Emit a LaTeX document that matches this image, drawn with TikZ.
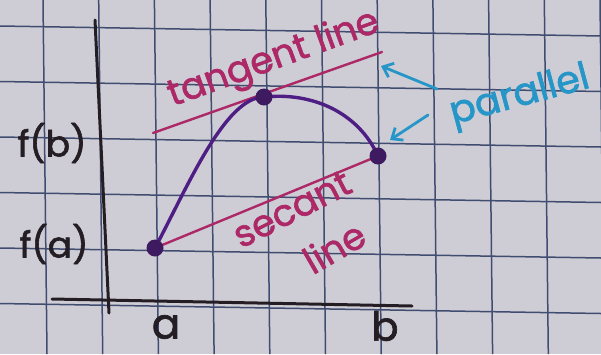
\documentclass[tikz,border=0pt]{standalone}
\usepackage{fontspec}
\setmainfont{Poppins}
\newfontfamily\handfont{Poppins}[FakeBold=1.6]
\usetikzlibrary{arrows.meta, positioning, calc}

\definecolor{paper}{RGB}{206,205,213}
\definecolor{gridblue}{RGB}{64,76,112}
\definecolor{ink}{RGB}{36,30,36}
\definecolor{curvepurple}{RGB}{78,30,132}
\definecolor{dotpurple}{RGB}{62,26,96}
\definecolor{linemagenta}{RGB}{172,40,102}
\definecolor{notecyan}{RGB}{38,150,200}

\begin{document}
\begin{tikzpicture}[
    x=1pt, y=-1pt,
    gridline/.style={
        draw=gridblue,
        line width=1.5pt
    },
    axis/.style={
        draw=ink,
        line width=3pt,
        line cap=round
    },
    curve/.style={
        draw=curvepurple,
        line width=3.4pt,
        line cap=round
    },
    magline/.style={
        draw=linemagenta,
        line width=2.4pt,
        line cap=round
    },
    dot/.style={
        circle,
        fill=dotpurple,
        inner sep=0pt,
        minimum size=17pt
    },
    axislabel/.style={
        text=ink,
        inner sep=0pt,
        font=\handfont\fontsize{36}{36}\selectfont
    },
    maglabel/.style={
        text=linemagenta,
        inner sep=0pt,
        font=\handfont\fontsize{37}{37}\selectfont
    },
    note/.style={
        text=notecyan,
        inner sep=0pt,
        font=\handfont\fontsize{38}{38}\selectfont
    },
    pointer/.style={
        ->,
        >={Straight Barb[length=9pt, width=15pt]},
        draw=notecyan,
        line width=2.8pt,
        line cap=round
    }
]

% Paper and grid
\useasboundingbox (0,0) rectangle (601,354);
\fill [paper] (0,0) rectangle (601,354);
\begin{scope}
\clip (0,0) rectangle (601,354);
\foreach \gx in {-12.7,43,98.7,154.4,210.1,265.8,321.5,377.2,432.9,488.6,544.3,600} {
    \draw [gridline] (\gx,0) -- (\gx+4,354);
}
\foreach \gy in {-29.5,26,81.5,137,192.5,248,303.5,359} {
    \draw [gridline] (0,\gy) -- (601,\gy+10);
}
\end{scope}

% Axes
\coordinate (ytop) at (95,20);
\coordinate (ybot) at (109,313);
\coordinate (xleft) at (52,299);
\coordinate (xright) at (412,306);
\draw [axis] (ytop) -- (ybot);
\draw [axis] (xleft) -- (xright);

% Tangent and secant
\coordinate (tanL) at (153,133);
\coordinate (tanR) at (382,52);
\coordinate (pa) at (155,248);
\coordinate (pt) at (264,97);
\coordinate (pb) at (378,156);
\draw [magline] (tanL) -- (tanR);
\draw [magline] (pa) -- (pb);

% Function
\draw [curve] (pa) .. controls (187,188) and (225,97) .. (pt)
    .. controls (312,92) and (358,112) .. (pb);

% Points
\node (dota) [dot] at (pa) {};
\node (dott) [dot] at (pt) {};
\node (dotb) [dot] at (pb) {};

% Labels
\node (fb) [axislabel] at (52,143) {f(b)};
\node (fa) [axislabel] at (54,244) {f(a)};
\node (la) [axislabel, font=\handfont\fontsize{42}{42}\selectfont] at (166,327) {a};
\node (lb) [axislabel, font=\handfont\fontsize{40}{40}\selectfont] at (385,326) {b};
\node (tanlabel) [maglabel, rotate=20] at (274,60) {tangent line};
\node (seclabel) [maglabel, rotate=27] at (292,209) {secant};
\node (seclabel2) [maglabel, rotate=30] at (334,247) {line};
\node (parlabel) [note, rotate=15] at (520,97) {parallel};

% Pointers
\coordinate (ptrA0) at (437,89);
\coordinate (ptrA1) at (381,66);
\coordinate (ptrB0) at (428,115);
\coordinate (ptrB1) at (390,140);
\draw [pointer] (ptrA0) -- (ptrA1);
\draw [pointer] (ptrB0) -- (ptrB1);

\end{tikzpicture}
\end{document}
